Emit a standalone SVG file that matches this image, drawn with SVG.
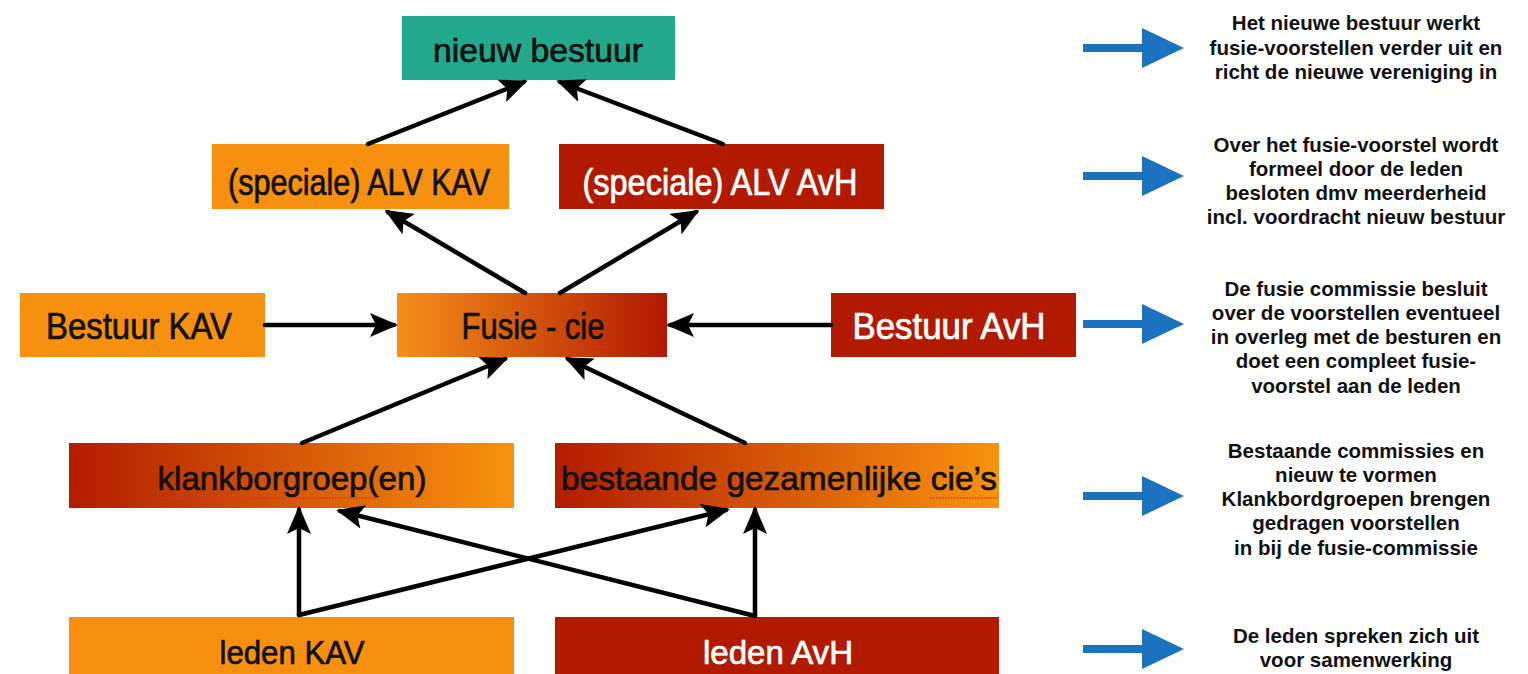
<svg xmlns="http://www.w3.org/2000/svg" width="1528" height="674" viewBox="0 0 1528 674">
<style>
.lbl{font-family:"Liberation Sans",Arial,Helvetica,sans-serif;text-anchor:middle;stroke-width:0.7px}
.dk{fill:#111;stroke:#111}
.wh{fill:#fff;stroke:#fff}
.note{font-family:"Liberation Sans",Arial,Helvetica,sans-serif;font-weight:bold;font-size:20.5px;fill:#111;text-anchor:middle}
.orange{fill:#F8900F}
.red{fill:#B21A00}
.teal{fill:#22A98C}
.conn{stroke:#000;stroke-width:4.5;fill:none;stroke-linecap:round}
.spell{stroke:#E03030;stroke-width:1.5;stroke-dasharray:1.5 1.5;fill:none}
.blue{fill:#1B72BE}
</style>
<defs>
<linearGradient id="gOR" x1="0" y1="0" x2="1" y2="0">
<stop offset="0" stop-color="#F5901A"/>
<stop offset="1" stop-color="#B01800"/>
</linearGradient>
<linearGradient id="gRO" x1="0" y1="0" x2="1" y2="0">
<stop offset="0" stop-color="#B21C00"/>
<stop offset="1" stop-color="#F8930E"/>
</linearGradient>
<marker id="ah" viewBox="0 0 28 24" refX="24" refY="12" markerWidth="28" markerHeight="24" markerUnits="userSpaceOnUse" orient="auto">
<path d="M0,0 L28,12 L0,24 L6,12 z" fill="#000"/>
</marker>
<g id="blueArrow">
<rect x="0" y="-4" width="61" height="8"/>
<path d="M59,-20 L101,0 L59,20 z"/>
</g>
</defs>
<rect width="1528" height="674" fill="#fff"/>

<g id="node-nieuw-bestuur">
<rect class="teal" x="402" y="16" width="273" height="64"/>
<text class="lbl dk" x="538" y="62" font-size="33" textLength="210" lengthAdjust="spacingAndGlyphs">nieuw bestuur</text>
</g>
<g id="node-alv-kav">
<rect class="orange" x="212" y="144" width="297" height="65"/>
<text class="lbl dk" x="359" y="195" font-size="36" textLength="262" lengthAdjust="spacingAndGlyphs">(speciale) ALV KAV</text>
</g>
<g id="node-alv-avh">
<rect class="red" x="559" y="144" width="325" height="65"/>
<text class="lbl wh" x="720" y="195" font-size="36" textLength="275" lengthAdjust="spacingAndGlyphs">(speciale) ALV AvH</text>
</g>
<g id="node-bestuur-kav">
<rect class="orange" x="20" y="293" width="245" height="64"/>
<text class="lbl dk" x="139" y="339" font-size="36" textLength="186" lengthAdjust="spacingAndGlyphs">Bestuur KAV</text>
</g>
<g id="node-fusie-cie">
<rect fill="url(#gOR)" x="397" y="293" width="270" height="64"/>
<text class="lbl dk" x="533" y="339" font-size="36" textLength="143" lengthAdjust="spacingAndGlyphs">Fusie - cie</text>
<path class="spell" d="M570,347 H606"/>
</g>
<g id="node-bestuur-avh">
<rect class="red" x="831" y="293" width="245" height="64"/>
<text class="lbl wh" x="949" y="339" font-size="36" textLength="193" lengthAdjust="spacingAndGlyphs">Bestuur AvH</text>
</g>
<g id="node-klankborgroep">
<rect fill="url(#gRO)" x="69" y="443" width="445" height="65"/>
<text class="lbl dk" x="292" y="490" font-size="34" textLength="269" lengthAdjust="spacingAndGlyphs">klankborgroep(en)</text>
<path class="spell" d="M158,498 H378"/>
</g>
<g id="node-bestaande">
<rect fill="url(#gRO)" x="555" y="443" width="444" height="65"/>
<text class="lbl dk" x="779" y="490" font-size="34" textLength="436" lengthAdjust="spacingAndGlyphs">bestaande gezamenlijke cie’s</text>
<path class="spell" d="M930,498 H997"/>
</g>
<g id="node-leden-kav">
<rect class="orange" x="69" y="617" width="445" height="60"/>
<text class="lbl dk" x="292" y="664" font-size="34" textLength="145" lengthAdjust="spacingAndGlyphs">leden KAV</text>
</g>
<g id="node-leden-avh">
<rect class="red" x="555" y="617" width="444" height="60"/>
<text class="lbl wh" x="778" y="664" font-size="34" textLength="150" lengthAdjust="spacingAndGlyphs">leden AvH</text>
</g>

<g id="connectors">
<line class="conn" x1="368" y1="144" x2="524" y2="82" marker-end="url(#ah)"/>
<line class="conn" x1="723" y1="144" x2="560" y2="82" marker-end="url(#ah)"/>
<line class="conn" x1="525" y1="293" x2="388" y2="212" marker-end="url(#ah)"/>
<line class="conn" x1="560" y1="293" x2="696" y2="212" marker-end="url(#ah)"/>
<line class="conn" x1="265" y1="325" x2="394" y2="325" marker-end="url(#ah)"/>
<line class="conn" x1="831" y1="325" x2="670" y2="325" marker-end="url(#ah)"/>
<line class="conn" x1="302" y1="443" x2="505" y2="359" marker-end="url(#ah)"/>
<line class="conn" x1="745" y1="443" x2="568" y2="359" marker-end="url(#ah)"/>
<line class="conn" x1="299" y1="615" x2="299" y2="510" marker-end="url(#ah)"/>
<line class="conn" x1="299" y1="615" x2="726" y2="510" marker-end="url(#ah)"/>
<line class="conn" x1="755" y1="616" x2="755" y2="510" marker-end="url(#ah)"/>
<line class="conn" x1="755" y1="616" x2="340" y2="511" marker-end="url(#ah)"/>
</g>

<g id="side-arrows" class="blue">
<use href="#blueArrow" x="1083" y="48"/>
<use href="#blueArrow" x="1083" y="176"/>
<use href="#blueArrow" x="1083" y="324"/>
<use href="#blueArrow" x="1083" y="496"/>
<use href="#blueArrow" x="1083" y="649"/>
</g>

<g id="notes">
<text class="note" x="1356" y="30">Het nieuwe bestuur werkt</text>
<text class="note" x="1356" y="55">fusie-voorstellen verder uit en</text>
<text class="note" x="1356" y="79">richt de nieuwe vereniging in</text>
<text class="note" x="1356" y="152">Over het fusie-voorstel wordt</text>
<text class="note" x="1356" y="176">formeel door de leden</text>
<text class="note" x="1356" y="200">besloten dmv meerderheid</text>
<text class="note" x="1356" y="224">incl. voordracht nieuw bestuur</text>
<text class="note" x="1356" y="296">De fusie commissie besluit</text>
<text class="note" x="1356" y="320">over de voorstellen eventueel</text>
<text class="note" x="1356" y="344">in overleg met de besturen en</text>
<text class="note" x="1356" y="368">doet een compleet fusie-</text>
<text class="note" x="1356" y="393">voorstel aan de leden</text>
<text class="note" x="1356" y="458">Bestaande commissies en</text>
<text class="note" x="1356" y="482">nieuw te vormen</text>
<text class="note" x="1356" y="506">Klankbordgroepen brengen</text>
<text class="note" x="1356" y="530">gedragen voorstellen</text>
<text class="note" x="1356" y="555">in bij de fusie-commissie</text>
<text class="note" x="1356" y="643">De leden spreken zich uit</text>
<text class="note" x="1356" y="667">voor samenwerking</text>
</g>
</svg>
